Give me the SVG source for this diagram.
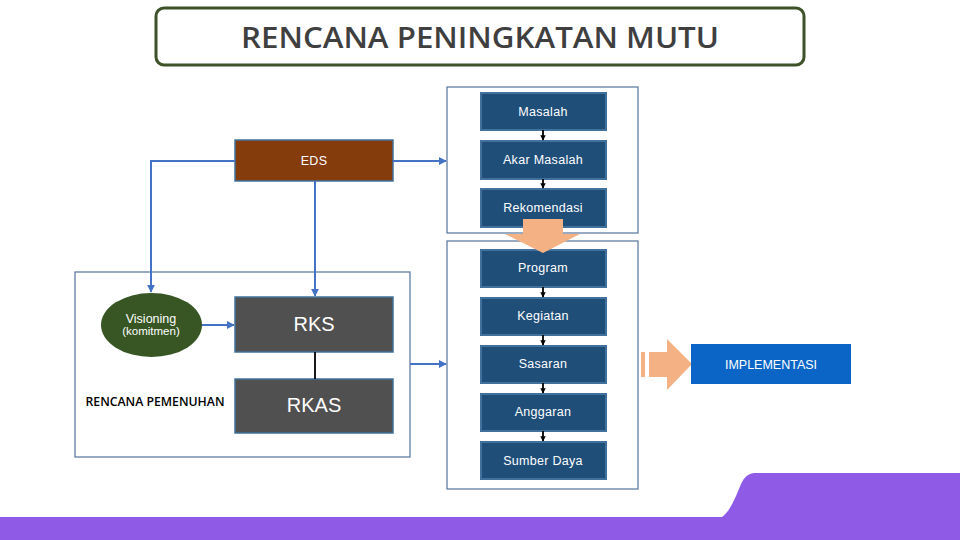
<svg xmlns="http://www.w3.org/2000/svg" width="960" height="540" viewBox="0 0 960 540">
<defs>
<style>
.bb{fill:#1f4e79;stroke:#41719c;stroke-width:2}
.bt{fill:#fff;font-family:"Liberation Sans",Arial,sans-serif;font-size:12.5px;text-anchor:middle;letter-spacing:0.3px}
.frame{fill:#fff;stroke:#55739a;stroke-width:1.2}
.blue{stroke:#4472c4;stroke-width:2;fill:none}
.blk{stroke:#000;stroke-width:1.8;fill:none}
.gray{fill:#505050;stroke:#41719c;stroke-width:1.5}
.big{fill:#fff;font-family:"Liberation Sans",Arial,sans-serif;font-size:20px;text-anchor:middle}
</style>
<marker id="ab" viewBox="0 0 10 10" refX="9" refY="5" markerWidth="4" markerHeight="4" orient="auto"><path d="M0,0L10,5L0,10z" fill="#4472c4"/></marker>
<marker id="ak" viewBox="0 0 10 10" refX="9" refY="5" markerWidth="3" markerHeight="3" orient="auto"><path d="M0,0L10,5L0,10z" fill="#000"/></marker>
</defs>
<rect width="960" height="540" fill="#fff"/>
<g id="title">
<rect x="156" y="8" width="648" height="57" rx="8" fill="#fff" stroke="#3d5229" stroke-width="3"/>
<text x="480" y="48" font-family="'Open Sans','Liberation Sans',sans-serif" font-weight="600" font-size="29" fill="#3f3f3f" text-anchor="middle" textLength="478" lengthAdjust="spacingAndGlyphs">RENCANA PENINGKATAN MUTU</text>
</g>
<g id="frames">
<rect class="frame" x="447" y="87" width="191" height="146"/>
<rect class="frame" x="447" y="241" width="191" height="248"/>
<rect class="frame" x="75" y="272" width="335" height="185"/>
</g>
<g id="eds"><rect x="235" y="140" width="158" height="41" fill="#843c0c" stroke="#41719c" stroke-width="1.5"/><text class="bt" x="314" y="165">EDS</text></g>
<g id="visioning"><ellipse cx="151.5" cy="325" rx="50.5" ry="32" fill="#375623"/>
<text x="151" y="323" fill="#fff" font-family="'Liberation Sans',Arial,sans-serif" font-size="12.5" text-anchor="middle">Visioning</text>
<text x="151" y="335" fill="#fff" font-family="'Liberation Sans',Arial,sans-serif" font-size="11.5" text-anchor="middle">(komitmen)</text></g>
<g id="rks"><rect class="gray" x="235" y="297" width="158" height="55"/><text class="big" x="314" y="331">RKS</text></g>
<g id="rkas"><rect class="gray" x="235" y="379" width="158" height="54"/><text class="big" x="314" y="412">RKAS</text></g>
<g id="pemenuhan"><text x="155" y="406" font-family="'Open Sans','Liberation Sans',sans-serif" font-weight="600" font-size="12" fill="#000" text-anchor="middle" textLength="139" lengthAdjust="spacingAndGlyphs">RENCANA PEMENUHAN</text></g>
<g id="masalah"><rect class="bb" x="481" y="93" width="125" height="37"/><text class="bt" x="543" y="116">Masalah</text></g>
<g id="akar"><rect class="bb" x="481" y="141" width="125" height="38"/><text class="bt" x="543" y="164">Akar Masalah</text></g>
<g id="rekomendasi"><rect class="bb" x="481" y="189" width="125" height="38"/><text class="bt" x="543" y="212">Rekomendasi</text></g>
<g id="program"><rect class="bb" x="481" y="250" width="125" height="37"/><text class="bt" x="543" y="272">Program</text></g>
<g id="kegiatan"><rect class="bb" x="481" y="298" width="125" height="37"/><text class="bt" x="543" y="320">Kegiatan</text></g>
<g id="sasaran"><rect class="bb" x="481" y="346" width="125" height="37"/><text class="bt" x="543" y="368">Sasaran</text></g>
<g id="anggaran"><rect class="bb" x="481" y="394" width="125" height="37"/><text class="bt" x="543" y="416">Anggaran</text></g>
<g id="sumberdaya"><rect class="bb" x="481" y="442" width="125" height="37"/><text class="bt" x="543" y="465">Sumber Daya</text></g>
<g id="down-arrow"><path d="M523,219H563V234H580L543,253L505,234H523Z" fill="#f4b183"/></g>
<g id="right-arrow"><rect x="641" y="352" width="4" height="25" fill="#f4b183"/><path d="M649,352H667V339L692,364L667,390V377H649Z" fill="#f4b183"/></g>
<g id="implementasi"><rect x="691" y="344" width="160" height="40" fill="#0b65c6"/><text x="771" y="369" fill="#fff" font-family="'Liberation Sans',Arial,sans-serif" font-size="12.5" text-anchor="middle">IMPLEMENTASI</text></g>
<g id="connectors">
<path class="blue" d="M235,161H151V292" marker-end="url(#ab)"/>
<path class="blue" d="M393,161H446" marker-end="url(#ab)"/>
<path class="blue" d="M315,181V296" marker-end="url(#ab)"/>
<path class="blue" d="M202,325H234" marker-end="url(#ab)"/>
<path class="blue" d="M410,364H446" marker-end="url(#ab)"/>
<path class="blk" d="M315,352V379"/>
<path class="blk" d="M543,130V140" marker-end="url(#ak)"/>
<path class="blk" d="M543,179V188" marker-end="url(#ak)"/>
<path class="blk" d="M543,287V297" marker-end="url(#ak)"/>
<path class="blk" d="M543,335V345" marker-end="url(#ak)"/>
<path class="blk" d="M543,383V393" marker-end="url(#ak)"/>
<path class="blk" d="M543,431V441" marker-end="url(#ak)"/>
</g>
<g id="footer">
<path d="M0,517H722C732,510 738,490 742,482C746,475 750,473 756,473H960V540H0Z" fill="#8f5be6"/>
</g>
</svg>
